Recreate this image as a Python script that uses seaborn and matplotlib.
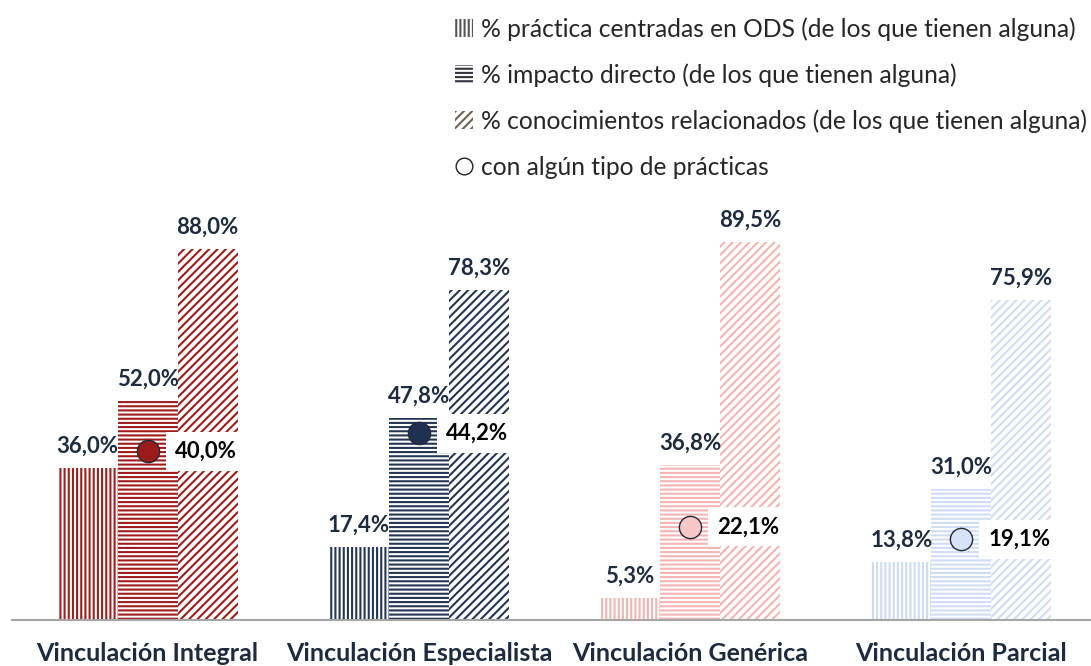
import pandas as pd
import matplotlib.pyplot as plt
import seaborn as sns
from matplotlib.patches import Patch
from matplotlib.lines import Line2D

# Data
categories = ["Vinculación Integral", "Vinculación Especialista",
              "Vinculación Genérica", "Vinculación Parcial"]
series = ["% práctica centradas en ODS (de los que tienen alguna)",
          "% impacto directo (de los que tienen alguna)",
          "% conocimientos relacionados (de los que tienen alguna)"]
centradas_ods = [36.0, 17.4, 5.3, 13.8]
impacto_directo = [52.0, 47.8, 36.8, 31.0]
conocimientos = [88.0, 78.3, 89.5, 75.9]
algun_tipo = [40.0, 44.2, 22.1, 19.1]
dot_label = "con algún tipo de prácticas"

bar_colors = ["#A01C1C", "#243656", "#F5B3B3", "#CEDCF5"]
dot_colors = ["#9B1B1B", "#1F3050", "#F8C8C8", "#D6E3F9"]
hatches = ["||||", "----", "////"]

sns.set_style("white")
plt.rcParams["font.family"] = ["Lato", "DejaVu Sans"]
plt.rcParams["hatch.linewidth"] = 1.5

df = pd.DataFrame({
    "categoria": categories * 3,
    "serie": [s for s in series for _ in categories],
    "valor": centradas_ods + impacto_directo + conocimientos,
})

fig = plt.figure(figsize=(10.91, 6.66), dpi=100)
ax = fig.add_axes([12 / 1091, 46 / 666, 1085 / 1091, 422 / 666])

sns.barplot(data=df, x="categoria", y="valor", hue="serie", width=0.664,
            saturation=1, legend=False, ax=ax)

for i, cont in enumerate(ax.containers):
    for j, patch in enumerate(cont):
        patch.set_facecolor("white")
        patch.set_edgecolor(bar_colors[j])
        patch.set_hatch(hatches[i])
        patch.set_linewidth(0)
    labels = [f"{v:.1f}%".replace(".", ",") for v in cont.datavalues]
    ax.bar_label(cont, labels=labels, padding=8, fontsize=16,
                 fontweight="bold", color="#1C2B3F", zorder=6)

sns.stripplot(x=categories, y=algun_tipo, hue=categories, palette=dot_colors,
              jitter=False, size=16, linewidth=1, edgecolor="#1F2A3A",
              legend=False, zorder=5, ax=ax)

for k, v in enumerate(algun_tipo):
    ax.annotate(f"{v:.1f}%".replace(".", ","), (k, v), xytext=(27, 0),
                textcoords="offset pixels", ha="left", va="center",
                fontsize=16, fontweight="bold", color="black", zorder=4,
                bbox=dict(boxstyle="square,pad=0.4", fc="white", ec="none"))

ax.set_xlim(-0.5, 3.5)
ax.set_ylim(0, 100)
ax.set_xlabel("")
ax.set_ylabel("")
ax.set_yticks([])
ax.set_xticks([-0.5, 0.5, 1.5, 2.5, 3.5], minor=True)
ax.tick_params(axis="x", which="major", length=0, pad=16, labelsize=18)
ax.tick_params(axis="x", which="minor", length=6, width=1.3, color="#A6A6A6")
for lab in ax.get_xticklabels():
    lab.set_fontweight("bold")
    lab.set_color("#1C2B3F")
for side in ["top", "right", "left"]:
    ax.spines[side].set_visible(False)
ax.spines["bottom"].set_color("#A6A6A6")
ax.spines["bottom"].set_linewidth(1.5)

handles = [Patch(facecolor="white", edgecolor="#555555", hatch="||||", linewidth=0),
           Patch(facecolor="white", edgecolor="#333344", hatch="----", linewidth=0),
           Patch(facecolor="white", edgecolor="#6B6250", hatch="////", linewidth=0),
           Line2D([], [], marker="o", linestyle="none", markersize=12,
                  markerfacecolor="white", markeredgecolor="#222222", markeredgewidth=1)]
fig.legend(handles, series + [dot_label], loc="upper left",
           bbox_to_anchor=(455 / 1091, 1 - 17 / 666), frameon=False,
           fontsize=17.7, handlelength=0.75, handleheight=0.75, handletextpad=0.3,
           labelspacing=0.92, borderpad=0, borderaxespad=0,
           labelcolor="#262626")

fig.savefig("out.png", dpi=100)
